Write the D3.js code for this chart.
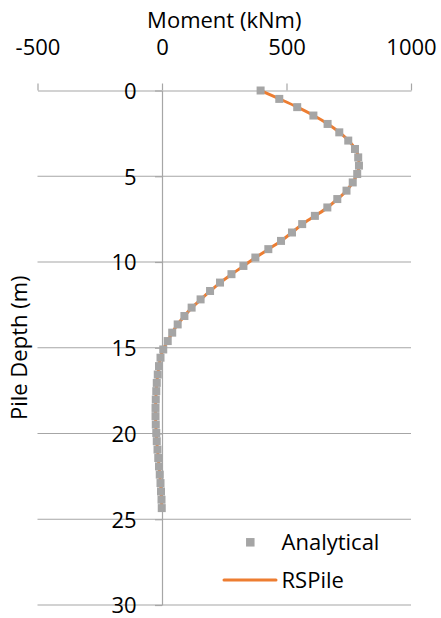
<!DOCTYPE html>
<html>
<head>
<meta charset="utf-8">
<script src="https://cdn.jsdelivr.net/npm/d3@7"></script>
<style>
  html, body { margin: 0; padding: 0; background: #fff; }
  svg { display: block; }
  text { font-family: "Open Sans", "Noto Sans", sans-serif; fill: #000; }
</style>
</head>
<body>
<svg id="chart" width="441" height="618"></svg>
<script>
// ---- data ----
const depth = [0, 0.49, 0.97, 1.46, 1.95, 2.44, 2.92, 3.41, 3.9, 4.38, 4.87, 5.36, 5.84, 6.33, 6.82, 7.31, 7.79, 8.28, 8.77, 9.25, 9.74, 10.23, 10.71, 11.2, 11.69, 12.18, 12.66, 13.15, 13.64, 14.12, 14.61, 15.1, 15.58, 16.07, 16.56, 17.05, 17.53, 18.02, 18.51, 18.99, 19.48, 19.97, 20.45, 20.94, 21.43, 21.92, 22.4, 22.89, 23.38, 23.86, 24.35];
const analyticalMoment = [396, 471, 543, 608, 665, 712, 748, 775, 788, 791, 784, 766, 741, 704, 664, 614, 563, 522, 478, 427, 375, 327, 279, 233, 193, 155, 119, 90, 63, 41, 23, 5, -6, -12, -17, -21, -23, -25, -26, -26, -25, -23, -21, -18, -15, -12, -9, -6, -4, -2, -1];
const rspileMoment = [396, 472, 544, 609, 666, 713, 749, 776, 789, 791, 784, 766, 741, 705, 665, 615, 564, 522, 478, 428, 376, 328, 280, 234, 194, 156, 120, 90, 63, 41, 23, 5, -6, -12, -17, -21, -23, -25, -26, -26, -25, -23, -21, -18, -15, -12, -9, -6, -4, -2, -1];
const xTicks = [-500, 0, 500, 1000];
const yTicks = [0, 5, 10, 15, 20, 25, 30];
const seriesNames = ["Analytical", "RSPile"];
const xTitle = "Moment (kNm)";
const yTitle = "Pile Depth (m)";

// ---- layout ----
const svg = d3.select("#chart");
const FS = 22;
const pLeft = 37.5, pRight = 411, pTop = 90.5, pBottom = 605;
const x = d3.scaleLinear().domain([-500, 1000]).range([pLeft, pRight]);
const y = d3.scaleLinear().domain([0, 30]).range([pTop, pBottom]);
const gridColor = "#a6a6a6";
const markerColor = "#a5a5a5";
const lineColor = "#ed7d31";
const fmt = d => String(d);

// horizontal gridlines
svg.append("g").selectAll("line")
  .data(yTicks.filter(d => d > 0))
  .join("line")
  .attr("x1", pLeft).attr("x2", pRight)
  .attr("y1", d => y(d)).attr("y2", d => y(d))
  .attr("stroke", gridColor).attr("stroke-width", 1.2);

// top x axis
const xAxis = d3.axisTop(x).tickValues(xTicks).tickSize(7).tickSizeOuter(0).tickPadding(28.5)
  .tickFormat(fmt);
const gx = svg.append("g").attr("transform", `translate(0,${pTop})`).call(xAxis);
gx.select(".domain").attr("stroke", gridColor).attr("stroke-width", 1.2);
gx.selectAll(".tick line").attr("stroke", gridColor).attr("stroke-width", 1.2);
gx.selectAll(".tick text").attr("font-size", FS).attr("font-family", "Open Sans").attr("fill", "#000");

// vertical y axis at x = 0
const yAxis = d3.axisLeft(y).tickValues(yTicks).tickSize(7).tickSizeOuter(0).tickPadding(18.3)
  .tickFormat(fmt);
const gy = svg.append("g").attr("transform", `translate(${x(0)},0)`).call(yAxis);
gy.select(".domain").attr("stroke", gridColor).attr("stroke-width", 1.2);
gy.selectAll(".tick line").attr("stroke", gridColor).attr("stroke-width", 1.2);
gy.selectAll(".tick text").attr("font-size", FS).attr("font-family", "Open Sans")
  .attr("fill", "#000").attr("dy", "0.36em");

// axis titles
svg.append("text")
  .attr("x", (pLeft + pRight) / 2).attr("y", 27.5)
  .attr("text-anchor", "middle").attr("font-size", FS)
  .text(xTitle);
svg.append("text")
  .attr("transform", `translate(27,${(pTop + pBottom) / 2}) rotate(-90)`)
  .attr("text-anchor", "middle").attr("font-size", FS)
  .text(yTitle);

// RSPile line
const rsData = depth.map((d, i) => ({ d, m: rspileMoment[i] }));
svg.append("path")
  .datum(rsData)
  .attr("fill", "none")
  .attr("stroke", lineColor)
  .attr("stroke-width", 3)
  .attr("stroke-linejoin", "round")
  .attr("stroke-linecap", "round")
  .attr("d", d3.line().x(p => x(p.m)).y(p => y(p.d)).curve(d3.curveMonotoneY));

// Analytical markers
const ms = 8;
const anData = depth.map((d, i) => ({ d, m: analyticalMoment[i] }));
svg.append("g").selectAll("rect")
  .data(anData)
  .join("rect")
  .attr("x", p => x(p.m) - ms / 2)
  .attr("y", p => y(p.d) - ms / 2)
  .attr("width", ms).attr("height", ms)
  .attr("fill", markerColor);

// legend
const lg = svg.append("g");
lg.append("rect")
  .attr("x", 250.3 - 4.25).attr("y", 542.3 - 4.25)
  .attr("width", 8.5).attr("height", 8.5)
  .attr("fill", markerColor);
lg.append("text").attr("x", 281.5).attr("y", 550).attr("font-size", FS).text(seriesNames[0]);
lg.append("line")
  .attr("x1", 224).attr("x2", 276).attr("y1", 580).attr("y2", 580)
  .attr("stroke", lineColor).attr("stroke-width", 3).attr("stroke-linecap", "round");
lg.append("text").attr("x", 281.5).attr("y", 587.5).attr("font-size", FS).text(seriesNames[1]);
</script>
</body>
</html>
